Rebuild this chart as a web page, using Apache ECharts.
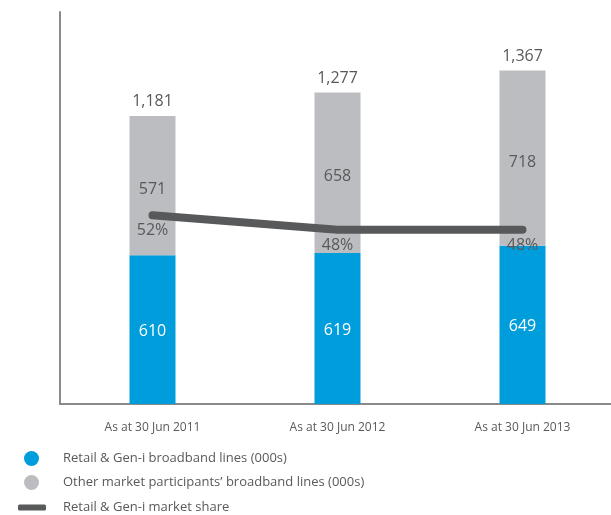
<!DOCTYPE html>
<html>
<head>
<meta charset="utf-8">
<script src="https://cdn.jsdelivr.net/npm/echarts@6/dist/echarts.min.js"></script>
<style>
  html, body { margin: 0; padding: 0; background: #fff; }
  #chart { width: 611px; height: 515px; }
</style>
</head>
<body>
<div id="chart"></div>
<script>
// Broadband lines (000s) and market share at each balance date
const categories = ['As at 30 Jun 2011', 'As at 30 Jun 2012', 'As at 30 Jun 2013'];
const retailLines = [610, 619, 649];
const otherLines = [571, 658, 718];
const marketShare = [52, 48, 48];
const totalLines = retailLines.map((v, i) => v + otherLines[i]);

const seriesNames = [
  'Retail & Gen-i broadband lines (000s)',
  'Other market participants\u2019 broadband lines (000s)',
  'Retail & Gen-i market share'
];

const FONT = '"Open Sans", sans-serif';
const TEXT = '#58595b';

// one legend row per series, stacked down the bottom-left corner
const legendRow = (i, top, left, width, height, icon, gap) => ({
  orient: 'vertical',
  left: left,
  top: top,
  padding: 0,
  itemWidth: width,
  itemHeight: height,
  selectedMode: false,
  textStyle: { fontFamily: FONT, fontSize: 13, color: TEXT, padding: [0, 0, 0, gap] },
  data: [{ name: seriesNames[i], icon: icon }]
});

const chart = echarts.init(document.getElementById('chart'));
chart.setOption({
  animation: false,
  textStyle: { fontFamily: FONT },
  grid: { left: 60, width: 555, top: 12, height: 392, outerBoundsMode: 'none' },
  legend: [
    legendRow(0, 451, 24, 15, 15, 'circle', 19),
    legendRow(1, 475, 24, 15, 15, 'circle', 19),
    legendRow(2, 501, 18, 28, 6, 'roundRect', 12)
  ],
  xAxis: {
    type: 'category',
    data: categories,
    axisLine: { lineStyle: { color: '#8a8a8a', width: 2 } },
    axisTick: { show: false },
    axisLabel: { fontFamily: FONT, fontSize: 12, color: TEXT, margin: 18 }
  },
  yAxis: [
    {
      type: 'value', min: 0, max: 1607,
      axisLine: { show: true, lineStyle: { color: '#8a8a8a', width: 2 } },
      axisTick: { show: false }, axisLabel: { show: false }, splitLine: { show: false }
    },
    {
      type: 'value', min: 0, max: 108,
      axisLine: { show: false }, axisTick: { show: false },
      axisLabel: { show: false }, splitLine: { show: false }
    }
  ],
  series: [
    {
      name: 'total',
      type: 'bar',
      data: totalLines,
      barWidth: 46,
      barGap: '-100%',
      silent: true,
      z: 1,
      itemStyle: { color: 'rgba(0,0,0,0)' },
      label: {
        show: true, position: 'top', distance: 6,
        fontFamily: FONT, fontSize: 16, color: TEXT,
        formatter: p => p.value.toLocaleString('en-US')
      }
    },
    {
      name: seriesNames[0],
      type: 'bar',
      stack: 'lines',
      data: retailLines,
      barWidth: 46,
      z: 2,
      itemStyle: { color: '#009ddc' },
      label: { show: true, position: 'inside', offset: [0, 2], fontFamily: FONT, fontSize: 16, color: '#fff' }
    },
    {
      name: seriesNames[1],
      type: 'bar',
      stack: 'lines',
      data: otherLines,
      barWidth: 46,
      z: 2,
      itemStyle: { color: '#bcbdc0' },
      label: { show: true, position: 'inside', offset: [0, 4], fontFamily: FONT, fontSize: 16, color: TEXT }
    },
    {
      name: seriesNames[2],
      type: 'line',
      yAxisIndex: 1,
      data: marketShare,
      z: 5,
      symbol: 'circle',
      symbolSize: 1,
      lineStyle: { color: '#58595b', width: 8, cap: 'round', join: 'round' },
      itemStyle: { color: '#58595b' },
      label: {
        show: true, position: 'bottom', distance: 7,
        fontFamily: FONT, fontSize: 16, color: TEXT,
        formatter: p => p.value + '%'
      }
    }
  ]
});
</script>
</body>
</html>
